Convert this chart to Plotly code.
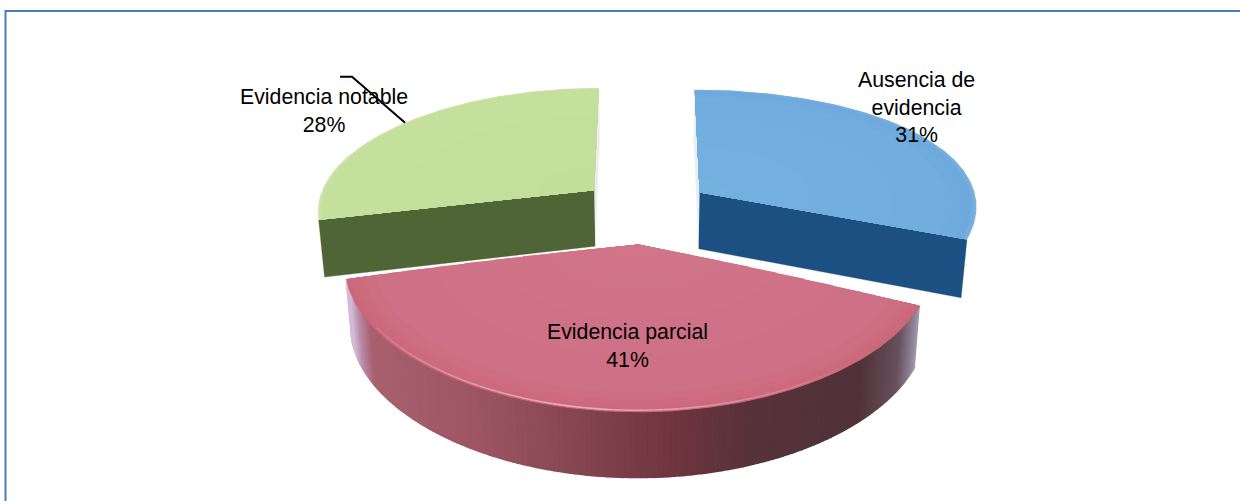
import numpy as np
import plotly.graph_objects as go

# Shares of each evidence level, clockwise from twelve o'clock
categories = ["Ausencia de<br>evidencia", "Evidencia parcial", "Evidencia notable"]
shares = [31, 41, 28]

WIDTH, HEIGHT = 1240, 501
CX, CY = 645.0, 210.5      # pie centre on the page
RX, RY = 279.0, 126.0      # radii of the disc before perspective
PERSP_X = 0.10             # perspective strength, horizontal scale and wall height
PERSP_Y = 0.17             # perspective strength, vertical foreshortening
EXPLODE_X = 0.24           # slice pull-out across the page
EXPLODE_Y = 0.26           # slice pull-out towards the viewer
DEPTH = 57.0               # wall height
BOTTOM_SHRINK = 0.982      # lower rim sits slightly further from the viewer
SAG = {0: 0.0, 1: 8.0, 2: 7.0}       # extra droop of each slice's sides, in pixels
WIDEN = {0: 1.0, 1: 1.018, 2: 1.0}   # horizontal stretch of each slice


def hex_rgb(c):
    return np.array([int(c[i:i + 2], 16) for i in (1, 3, 5)], float)


def mix(stops, t):
    """Piecewise-linear colour lookup; stops is a list of (position, hex)."""
    pos = [s[0] for s in stops]
    rgb = np.array([hex_rgb(s[1]) for s in stops])
    vals = [np.interp(t, pos, rgb[:, k]) for k in range(3)]
    return "rgb(%d,%d,%d)" % tuple(int(round(v)) for v in vals)


# Angular spans derived from the shares
totals = np.cumsum([0] + shares) * 3.6
spans = list(zip(totals[:-1], totals[1:]))
bisectors = [(a + b) / 2 for a, b in spans]


def project(theta, r, idx, z=0.0):
    """Map polar coordinates of slice idx (degrees clockwise from top) to page pixels."""
    th, b = np.radians(theta), np.radians(bisectors[idx])
    X = EXPLODE_X * np.sin(b) + r * np.sin(th)
    Y = -(EXPLODE_Y * np.cos(b) + r * np.cos(th))
    sx = 1.0 / (1.0 - PERSP_X * Y)
    sy = 1.0 / (1.0 - PERSP_Y * Y)
    x = RX * X * sx * WIDEN[idx]
    if z:
        x = x * BOTTOM_SHRINK
    y = RY * Y * sy + z * DEPTH * sx + SAG[idx] * (r * np.sin(th)) ** 2
    return CX + x, CY + y


fig = go.Figure()


def poly(xs, ys, color, width=0.6):
    fig.add_trace(go.Scatter(
        x=np.asarray(xs), y=np.asarray(ys), mode="lines", fill="toself",
        fillcolor=color, line=dict(color=color, width=width),
        hoverinfo="skip", showlegend=False))


def cut_face(theta, idx, color):
    """Flat radial wall exposed where a slice has been pulled away."""
    x0, y0 = project(theta, 0, idx)
    x1, y1 = project(theta, 1, idx)
    x2, y2 = project(theta, 1, idx, 1)
    x3, y3 = project(theta, 0, idx, 1)
    poly([x0, x1, x2, x3], [y0, y1, y2, y3], color, width=0.3)


def outer_wall(t0, t1, idx, stops):
    """Curved outer wall, built from narrow strips shaded by page position."""
    edges = np.linspace(t0, t1, int(abs(t1 - t0)) + 2)
    for a, b in zip(edges[:-1], edges[1:]):
        xa, ya = project(a, 1, idx)
        xb, yb = project(b, 1, idx)
        xc, yc = project(b, 1, idx, 1)
        xd, yd = project(a, 1, idx, 1)
        poly([xa, xb, xc, xd], [ya, yb, yc, yd], mix(stops, (xa + xb) / 2), width=1.6)


# Rings are dense near the rim, where the bevel shading changes quickly
RING_RADII = [1.0, 0.997, 0.994, 0.99, 0.985, 0.98, 0.97, 0.96, 0.94, 0.9,
              0.85, 0.8, 0.7, 0.6, 0.5, 0.4, 0.3, 0.2, 0.1]


def top_face(t0, t1, idx, stops):
    """Top of a slice, painted from the rim inwards as concentric bands."""
    arc = np.linspace(t0, t1, 160)
    ax, ay = project(t0, 0, idx)
    for r in RING_RADII:
        x, y = project(arc, r, idx)
        poly(np.r_[ax, x], np.r_[ay, y], mix(stops, r), width=0)


# Palette for each slice
BLUE_TOP = [(0, "#74B0E0"), (0.9, "#71ADDF"), (0.98, "#6EA9DD"), (1, "#7FB2DD")]
GREEN_TOP = [(0, "#C3DE9A"), (0.985, "#C5DF9C"), (1, "#CFE4AE")]
RED_TOP = [(0, "#D17589"), (0.9, "#CF7186"), (0.985, "#CC6A7C"), (1, "#C96678")]
RED_WALL = [(350, "#D3BAD6"), (358, "#B98CA8"), (370, "#A8606F"), (480, "#9C5560"),
            (600, "#7F424C"), (680, "#6E343D"), (750, "#57323A"), (860, "#503238"),
            (900, "#67505B"), (915, "#8F8499"), (924, "#B3AFC6")]

# Back slices first, the front slice last so it sits on top
(b0, b1), (g0, g1) = spans[0], spans[2]
cut_face(b0, 0, "#E9EEF0")
cut_face(b1, 0, "#1C4F82")
top_face(b0, b1, 0, BLUE_TOP)

cut_face(g1, 2, "#E9EEF0")
cut_face(g0, 2, "#506535")
top_face(g0, g1, 2, GREEN_TOP)

r0, r1 = spans[1]
outer_wall(r0, r1, 1, RED_WALL)
top_face(r0, r1, 1, RED_TOP)

# Soft highlight on the front of the bevel, fading towards both ends
mid = (r0 + r1) / 2
hl_edges = np.linspace(r0 + 20, r1 - 20, 60)
for a, b in zip(hl_edges[:-1], hl_edges[1:]):
    c = (a + b) / 2
    k = float(np.clip(1 - abs(c - (mid + 6)) / (0.5 * (r1 - r0) - 20), 0, 1)) ** 0.8
    hx, hy = project(np.array([a, b]), 0.99, 1)
    fig.add_trace(go.Scatter(
        x=hx, y=hy, mode="lines",
        line=dict(color=mix([(0, "#CC6A7C"), (1, "#EBAEBA")], k), width=1.6),
        hoverinfo="skip", showlegend=False))

# Leader line from the green slice's rim up to its elbow
lx, ly = project(g0 + 52.5, 1, 2)
fig.add_trace(go.Scatter(x=[lx - 65, lx - 53, lx], y=[ly - 46, ly - 46, ly], mode="lines",
                         line=dict(color="black", width=2), hoverinfo="skip", showlegend=False))

# Category and percentage labels
label_pos = [(916, 107.5), (627, 345.5), (324, 110.5)]
for name, pct, (px, py) in zip(categories, shares, label_pos):
    fig.add_annotation(x=px, y=py, xref="x", yref="y", text=f"{name}<br>{pct}%",
                       showarrow=False, xanchor="center", yanchor="middle",
                       font=dict(family="Liberation Sans", size=21.3, color="black"))

fig.update_layout(
    width=WIDTH, height=HEIGHT, margin=dict(l=0, r=0, t=0, b=0),
    paper_bgcolor="white", plot_bgcolor="white", showlegend=False,
    xaxis=dict(range=[0, WIDTH], visible=False, fixedrange=True),
    yaxis=dict(range=[HEIGHT, 0], visible=False, fixedrange=True),
    shapes=[dict(type="rect", xref="x", yref="y", x0=5.5, x1=1300, y0=11, y1=520,
                 line=dict(color="#4A7EBB", width=2), fillcolor="rgba(0,0,0,0)", layer="below")],
)

fig.write_html("out.html", config=dict(displayModeBar=False))
